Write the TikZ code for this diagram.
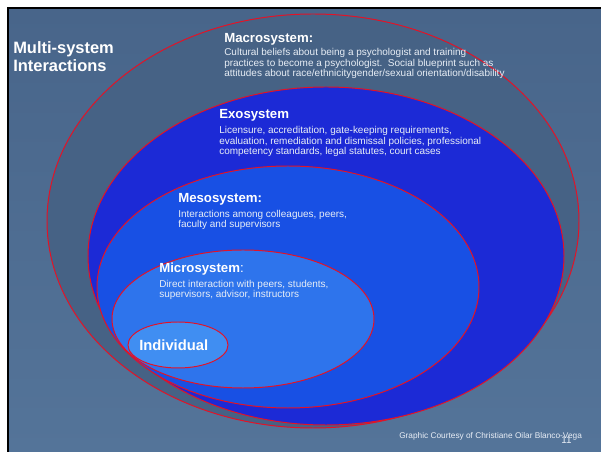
\documentclass[tikz,border=0pt]{standalone}
\usepackage{fontspec}
\setmainfont{Liberation Sans}
\usepackage{tikz}
\usetikzlibrary{calc}

\definecolor{slidetop}{RGB}{72,101,138}
\definecolor{slidebot}{RGB}{84,116,153}
\definecolor{macrofill}{RGB}{70,98,133}
\definecolor{exofill}{RGB}{28,42,214}
\definecolor{mesofill}{RGB}{24,80,228}
\definecolor{microfill}{RGB}{46,116,236}
\definecolor{indivfill}{RGB}{64,142,242}
\definecolor{ringred}{RGB}{228,18,38}
\definecolor{bodytext}{RGB}{232,238,246}

\begin{document}
\begin{tikzpicture}[x=0.025cm,y=-0.025cm,
	ring/.style={draw=ringred,line width=0.7pt},
	heading/.style={anchor=base west,inner sep=0,text=white,font=\bfseries\fontsize{9.4}{11}\selectfont},
	body/.style={anchor=base west,inner sep=0,align=left,text=bodytext,font=\fontsize{7.1}{7.8}\selectfont}]
		\useasboundingbox (0,0) rectangle (601,452);
		\fill[white] (0,0) rectangle (601,452);
		\shade[top color=slidetop,bottom color=slidebot] (9,9) rectangle (601,452);
		\draw[black,line width=1.4pt] (8,452) -- (8,8) -- (601,8);

	% nested systems
		\draw[ring,fill=macrofill] (313,221) ellipse (266 and 207);
		\draw[ring,fill=exofill] (326,256) ellipse (238 and 169);
		\draw[ring,fill=mesofill] (288,287) ellipse (191 and 121);
		\draw[ring,fill=microfill] (243,319) ellipse (131 and 69);
		\draw[ring,fill=indivfill] (178,345) ellipse (50 and 23);

	% labels (multi-line nodes sit on their last line)
		\node[anchor=base west,inner sep=0,align=left,text=white,font=\bfseries\fontsize{11.7}{13.5}\selectfont] (title) at (13,72) {Multi-system\\Interactions};

		\node[heading] (macro) at (224,43) {Macrosystem:};
		\node[body] (macrotext) at (224,77) {Cultural beliefs about being a psychologist and training\\practices to become a psychologist.\ \ Social blueprint such as\\attitudes about race/ethnicitygender/sexual orientation/disability};

		\node[heading] (exo) at (219,119) {Exosystem};
		\node[body] (exotext) at (219,155) {Licensure, accreditation, gate-keeping requirements,\\evaluation, remediation and dismissal policies, professional\\competency standards, legal statutes, court cases};

		\node[heading] (meso) at (178,203) {Mesosystem:};
		\node[body] (mesotext) at (178,228) {Interactions among colleagues, peers,\\faculty and supervisors};

		\node[heading] (micro) at (159,273) {Microsystem{\mdseries:}};
		\node[body] (microtext) at (159,298) {Direct interaction with peers, students,\\supervisors, advisor, instructors};

		\node[heading,font=\bfseries\fontsize{10.5}{12}\selectfont] (indiv) at (139,351) {Individual};

		\node[anchor=base west,inner sep=0,text=bodytext,font=\fontsize{5.9}{7}\selectfont] (credit) at (399,439) {Graphic Courtesy of Christiane Oilar Blanco-Vega};
		\node[anchor=base west,inner sep=0,text=bodytext,font=\fontsize{7}{8}\selectfont] (slideno) at (561,444) {11};
	\end{tikzpicture}
\end{document}
